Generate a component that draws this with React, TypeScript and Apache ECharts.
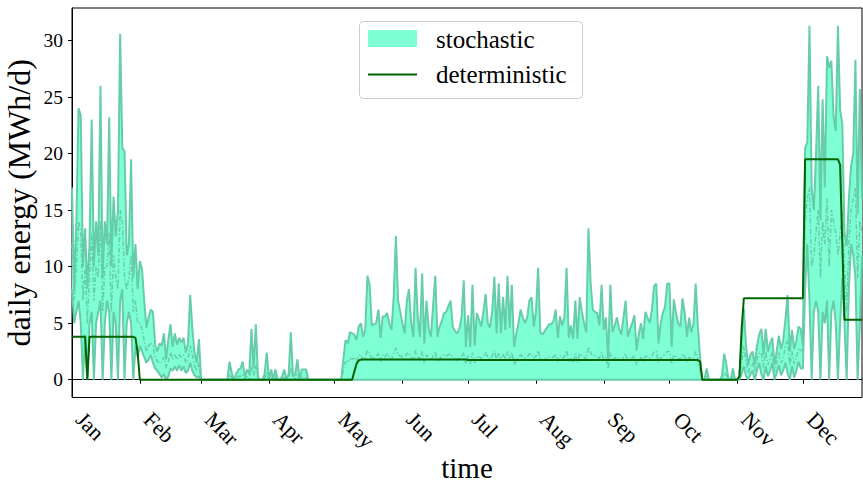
import React, { useEffect, useRef } from "react";
import * as echarts from "echarts";

const FONT = "'Liberation Serif', 'Times New Roman', serif";

const monthLabels = ["Jan", "Feb", "Mar", "Apr", "May", "Jun", "Jul", "Aug", "Sep", "Oct", "Nov", "Dec"];
const monthStartDays = [0, 31, 59, 90, 120, 151, 181, 212, 243, 273, 304, 334];
const yTickValues = [0, 5, 10, 15, 20, 25, 30];

// ---- stochastic: upper envelope (MWh/d), one value per day ----
const upperJan = [17, 8, 14, 24, 23.4, 10, 13.4, 8, 12, 23, 10, 14, 11, 26, 9, 14, 12, 23.2, 10, 16.2, 12.7, 15, 30.6, 20.5, 20.2, 11, 12, 19.5, 9, 12, 8];
const upperFeb = [10.5, 9.8, 7, 4.6, 5.5, 6.2, 6.0, 3.1, 2.5, 3.2, 3.0, 4.1, 1.8, 3.5, 4.9, 2.9, 4.1, 3.1, 3.7, 3.3, 3.7, 2.4, 3.2, 7.5, 4.5, 2.4, 1.5, 3.6];
const upperMar = [0, 0, 0, 0, 0, 0, 0, 0, 0, 0, 0, 0, 0, 1.6, 0.6, 0, 0.5, 0.9, 1.0, 1.6, 0.3, 0.9, 0.5, 4.5, 1.0, 4.9, 0.2, 0, 0, 0.5, 2.4];
const upperApr = [0, 0.9, 0, 0.9, 0, 0, 0.3, 0.9, 0, 0.5, 4.2, 0.3, 0.5, 1.8, 0, 0.9, 0.9, 0.9, 0, 0, 0, 0, 0, 0, 0, 0, 0, 0, 0, 0];
const upperMay = [0, 0, 0, 0, 1.8, 3.5, 3.2, 4.2, 4.1, 4.0, 3.5, 4.7, 5.0, 3.8, 4.4, 9.2, 8.4, 4.8, 4.9, 5.0, 6.2, 3.7, 5.6, 5.6, 5.9, 5.0, 4.4, 7.3, 12.7, 7.0, 6.0];
const upperJun = [5.0, 4.1, 7.0, 8.0, 5.0, 3.8, 9.9, 5.5, 3.8, 9.4, 3.2, 7.0, 4.5, 3.8, 6.5, 9.2, 3.8, 4.7, 5.2, 5.9, 6.0, 6.5, 7.0, 4.7, 4.3, 4.1, 4.5, 5.5, 8.8, 2.9];
const upperJul = [5.7, 2.9, 8.4, 3.0, 5.9, 5.3, 4.7, 6.0, 7.6, 5.0, 4.6, 6.0, 9.1, 4.1, 8.5, 4.1, 7.3, 4.4, 9.2, 4.6, 8.4, 2.9, 4.0, 5.0, 6.2, 5.5, 5.0, 5.5, 7.0, 7.3, 4.7];
const upperAug = [6.0, 9.9, 4.2, 4.0, 4.3, 4.6, 4.9, 4.9, 5.2, 6.2, 3.7, 5.6, 4.8, 5.5, 9.9, 3.7, 4.8, 3.6, 7.0, 3.6, 7.3, 6.0, 5.0, 4.2, 13.4, 8.5, 6.2, 6.0, 5.9, 4.8, 8.4];
const upperSep = [4.4, 5.5, 1.7, 8.4, 4.2, 4.8, 5.5, 4.5, 4.0, 5.5, 7.0, 3.8, 4.5, 5.0, 5.7, 2.6, 4.0, 5.0, 3.6, 6.0, 5.5, 5.0, 6.2, 8.3, 8.5, 3.2, 5.0, 5.9, 6.5, 8.5];
const upperOct = [8.5, 2.9, 7.1, 5.9, 5.0, 4.7, 7.2, 5.9, 3.8, 5.5, 4.2, 4.9, 8.5, 4.7, 2.0, 0, 0, 1.0, 0, 0, 0, 0, 0, 0, 0.3, 2.3, 1.4, 0, 0, 1.0, 0];
const upperNov = [0, 0.3, 3.5, 6.3, 3.0, 1.3, 2.2, 2.5, 1.3, 3.0, 4.0, 4.5, 2.2, 4.5, 2.5, 3.2, 3.7, 1.3, 2.5, 3.9, 2.7, 3.5, 5.3, 7.5, 2.5, 4.4, 2.7, 3.5, 4.7, 4.5];
const upperDec = [3.0, 20.5, 21, 31.3, 17, 15, 20, 26, 14.1, 24.8, 17, 28.6, 27.6, 28.2, 23.3, 22, 31.3, 23.9, 22.6, 13, 11.8, 16, 18.9, 20, 28.3, 14.6, 25.7, 16];

// ---- stochastic: lower envelope ----
const lowerJan = [8, 5, 6, 7, 5, 0, 4, 0, 5, 6, 0, 5, 6, 7, 0, 5, 7, 6, 0, 6, 5, 0, 7, 8, 0, 5, 6, 5, 0, 3, 2];
const lowerFeb = [3, 2.5, 2, 1.5, 1.8, 2.2, 1.5, 1.0, 0.8, 0.5, 0.2, 0.5, 0, 0.3, 1.0, 0.8, 1.2, 0.8, 1.3, 0.8, 1.2, 0.6, 0.8, 1.5, 0.8, 0.4, 0.2, 0.3];
const lowerMar = [0, 0, 0, 0, 0, 0, 0, 0, 0, 0, 0, 0, 0, 0, 0, 0, 0, 0, 0, 0, 0, 0, 0, 0, 0, 0, 0, 0, 0, 0, 0];
const lowerApr = [0, 0, 0, 0, 0, 0, 0, 0, 0, 0, 0, 0, 0, 0, 0, 0, 0, 0, 0, 0, 0, 0, 0, 0, 0, 0, 0, 0, 0, 0];
const lowerMay = [0, 0, 0, 0, 0, 0, 0, 0, 0, 0, 0, 0, 0, 0, 0, 0, 0, 0, 0, 0, 0, 0, 0, 0, 0, 0, 0, 0, 0, 0, 0];
const lowerJun = [0, 0, 0, 0, 0, 0, 0, 0, 0, 0, 0, 0, 0, 0, 0, 0, 0, 0, 0, 0, 0, 0, 0, 0, 0, 0, 0, 0, 0, 0];
const lowerJul = [0, 0, 0, 0, 0, 0, 0, 0, 0, 0, 0, 0, 0, 0, 0, 0, 0, 0, 0, 0, 0, 0, 0, 0, 0, 0, 0, 0, 0, 0, 0];
const lowerAug = [0, 0, 0, 0, 0, 0, 0, 0, 0, 0, 0, 0, 0, 0, 0, 0, 0, 0, 0, 0, 0, 0, 0, 0, 0, 0, 0, 0, 0, 0, 0];
const lowerSep = [0, 0, 0, 0, 0, 0, 0, 0, 0, 0, 0, 0, 0, 0, 0, 0, 0, 0, 0, 0, 0, 0, 0, 0, 0, 0, 0, 0, 0, 0];
const lowerOct = [0, 0, 0, 0, 0, 0, 0, 0, 0, 0, 0, 0, 0, 0, 0, 0, 0, 0, 0, 0, 0, 0, 0, 0, 0, 0, 0, 0, 0, 0, 0];
const lowerNov = [0, 0, 0.5, 1.2, 0.3, 0, 0.5, 0.8, 0, 0.8, 1.5, 0.5, 0, 1.2, 0.3, 0.8, 1.5, 0, 0.6, 1.3, 0.4, 0.8, 1.5, 0.6, 0, 1.2, 0.2, 0.8, 1.6, 1.0];
const lowerDec = [1.0, 8, 12, 7, 0, 6, 7, 6, 0, 6, 5, 7, 0, 6, 7, 5, 0, 5, 9, 5, 0, 8, 12, 11, 9, 0, 5, 11];

// ---- stochastic: mean (dash-dot) ----
const meanJan = [12, 7, 10, 14, 13, 7, 10, 5, 9, 13, 7, 10, 9, 14, 6, 10, 10, 13, 6, 11, 9, 8, 15, 14, 9, 8, 9, 11, 6, 7, 5];
const meanFeb = [5, 4.5, 3.5, 2.5, 3, 3.2, 3, 2, 1.6, 1.6, 1.5, 2, 1, 1.6, 2.4, 1.8, 2.2, 1.8, 2.2, 2, 2.2, 1.5, 1.8, 3, 2.2, 1.2, 0.8, 1.5];
const meanMar = [0, 0, 0, 0, 0, 0, 0, 0, 0, 0, 0, 0, 0, 0.4, 0.2, 0, 0.1, 0.3, 0.3, 0.5, 0.1, 0.3, 0.1, 1.2, 0.3, 1.3, 0, 0, 0, 0.1, 0.6];
const meanApr = [0, 0.2, 0, 0.2, 0, 0, 0, 0.2, 0, 0.1, 1.1, 0, 0.1, 0.5, 0, 0.2, 0.2, 0.2, 0, 0, 0, 0, 0, 0, 0, 0, 0, 0, 0, 0];
const meanMay = [0, 0, 0, 0, 0.8, 1.6, 1.5, 1.9, 1.8, 2.0, 1.6, 2.1, 2.2, 1.7, 2.0, 2.6, 2.4, 1.8, 2.0, 2.1, 2.3, 1.6, 2.2, 2.0, 2.3, 2.0, 1.8, 2.4, 2.8, 2.2, 2.1];
const meanJun = [2.0, 1.8, 2.3, 2.4, 2.0, 1.7, 2.6, 2.1, 1.7, 2.5, 1.5, 2.2, 1.9, 1.7, 2.1, 2.5, 1.6, 1.9, 2.0, 2.2, 2.1, 2.2, 2.3, 1.9, 1.8, 1.7, 1.9, 2.0, 2.4, 1.4];
const meanJul = [2.1, 1.4, 2.4, 1.5, 2.1, 2.0, 1.9, 2.1, 2.4, 2.0, 1.8, 2.1, 2.6, 1.7, 2.4, 1.7, 2.3, 1.8, 2.5, 1.8, 2.4, 1.3, 1.7, 2.0, 2.2, 2.0, 1.9, 2.0, 2.3, 2.3, 1.9];
const meanAug = [2.1, 2.6, 1.8, 1.7, 1.8, 1.9, 2.0, 2.0, 2.0, 2.2, 1.6, 2.1, 1.9, 2.0, 2.6, 1.6, 1.9, 1.5, 2.3, 1.5, 2.3, 2.1, 2.0, 1.8, 2.9, 2.4, 2.1, 2.1, 2.0, 1.9, 2.4];
const meanSep = [1.8, 2.0, 1.0, 2.4, 1.8, 1.9, 2.0, 1.8, 1.7, 2.0, 2.3, 1.6, 1.8, 1.9, 2.1, 1.3, 1.7, 2.0, 1.6, 2.1, 2.0, 1.9, 2.1, 2.5, 2.5, 1.5, 1.9, 2.1, 2.2, 2.5];
const meanOct = [2.5, 1.4, 2.2, 2.0, 1.9, 1.8, 2.3, 2.0, 1.6, 2.0, 1.8, 1.9, 2.5, 1.8, 0.8, 0, 0, 0.3, 0, 0, 0, 0, 0, 0, 0.1, 0.6, 0.4, 0, 0, 0.3, 0];
const meanNov = [0, 0.1, 1.5, 3, 1.6, 0.6, 1.2, 1.5, 0.7, 1.8, 2.3, 2.4, 1.1, 2.5, 1.3, 1.8, 2.4, 0.7, 1.4, 2.4, 1.5, 1.9, 3, 3.5, 1.3, 2.5, 1.4, 2, 2.8, 2.6];
const meanDec = [2.5, 14, 16, 17, 10, 11, 13, 15, 9, 14, 12, 16, 10, 15, 14, 13, 11, 13, 15, 10, 6, 12, 15, 16, 17, 9, 14, 13];

// ---- deterministic: [day index, value] at each change ----
const deterministicPoints: [number, number][] = [
  [0, 3.8], [6, 3.8], [7, 0], [8, 3.8], [28, 3.8], [29, 3.7], [30, 2.4], [31, 0],
  [128, 0], [129, 0.7], [130, 1.4], [131, 1.7], [132, 1.78], [180, 1.78], [181, 1.74],
  [286, 1.74], [287, 1.6], [288, 0], [304, 0], [305, 0.3], [306, 4.5], [307, 7.2],
  [334, 7.2], [335, 19.5], [350, 19.5], [351, 19.0], [352, 12.0], [353, 5.3], [361, 5.3],
];

const upper = [...upperJan, ...upperFeb, ...upperMar, ...upperApr, ...upperMay, ...upperJun, ...upperJul, ...upperAug, ...upperSep, ...upperOct, ...upperNov, ...upperDec];
const lower = [...lowerJan, ...lowerFeb, ...lowerMar, ...lowerApr, ...lowerMay, ...lowerJun, ...lowerJul, ...lowerAug, ...lowerSep, ...lowerOct, ...lowerNov, ...lowerDec];
const mean = [...meanJan, ...meanFeb, ...meanMar, ...meanApr, ...meanMay, ...meanJun, ...meanJul, ...meanAug, ...meanSep, ...meanOct, ...meanNov, ...meanDec];

const dayCategories = upper.map((_, i) => String(i));
const bandWidth = upper.map((u, i) => Math.max(0, +(u - lower[i]).toFixed(3)));

const isMonthStart = (index: number) => monthStartDays.indexOf(index) >= 0;

const EDGE = "#66cdaa";

export default function App() {
  const ref = useRef<HTMLDivElement>(null);
  useEffect(() => {
    document.body.style.margin = "0";
    const chart = echarts.init(ref.current as HTMLDivElement, null, { renderer: "svg" });
    chart.setOption({
      animation: false,
      backgroundColor: "#ffffff",
      grid: {
        left: 72, right: 1, top: 8, bottom: 88.5,
        show: true, borderColor: "#000", borderWidth: 1, backgroundColor: "transparent",
        containLabel: false, outerBoundsMode: "none",
      },
      xAxis: {
        type: "category",
        data: dayCategories,
        boundaryGap: false,
        axisLine: { show: true, lineStyle: { color: "#000", width: 1 } },
        axisTick: { show: true, length: 4, interval: isMonthStart, lineStyle: { color: "#000", width: 1 } },
        axisLabel: {
          show: true,
          interval: isMonthStart,
          formatter: (v: string) => monthLabels[monthStartDays.indexOf(Number(v))] ?? "",
          rotate: -45,
          align: "left",
          verticalAlign: "bottom",
          margin: 26,
          fontFamily: FONT,
          fontSize: 22,
          color: "#000",
          hideOverlap: false,
        },
        splitLine: { show: false },
        name: "time",
        nameLocation: "middle",
        nameGap: 56,
        nameMoveOverlap: false,
        nameTextStyle: { fontFamily: FONT, fontSize: 29, color: "#000" },
      },
      yAxis: {
        type: "value",
        min: -1.57,
        max: 32.87,
        axisLine: { show: true, lineStyle: { color: "#000", width: 1 } },
        axisTick: { show: true, length: 4, customValues: yTickValues, lineStyle: { color: "#000", width: 1 } },
        axisLabel: { show: true, customValues: yTickValues, margin: 9, fontFamily: FONT, fontSize: 19.5, color: "#000" },
        splitLine: { show: false },
        name: "daily energy (MWh/d)",
        nameLocation: "middle",
        nameGap: 37,
        nameMoveOverlap: false,
        nameTextStyle: { fontFamily: FONT, fontSize: 32, color: "#000" },
      },
      series: [
        {
          name: "lower",
          type: "line",
          stack: "band",
          data: lower,
          showSymbol: false,
          symbol: "none",
          z: 3,
          lineStyle: { color: EDGE, width: 2 },
          silent: true,
        },
        {
          name: "stochastic",
          type: "line",
          stack: "band",
          data: bandWidth,
          showSymbol: false,
          symbol: "none",
          z: 2,
          lineStyle: { color: EDGE, width: 2 },
          areaStyle: { color: "#7fffd4", opacity: 1 },
          silent: true,
        },
        {
          name: "mean",
          type: "line",
          data: mean,
          showSymbol: false,
          symbol: "none",
          z: 3,
          lineStyle: { color: EDGE, width: 1.5, type: [5, 2, 1.5, 2] },
          silent: true,
        },
        {
          name: "deterministic",
          type: "line",
          data: deterministicPoints,
          showSymbol: false,
          symbol: "none",
          z: 4,
          lineStyle: { color: "#006400", width: 2 },
          silent: true,
        },
      ],
      graphic: [
        {
          type: "rect",
          z: 100,
          shape: { x: 359.5, y: 21.5, width: 223, height: 77, r: 4 },
          style: { fill: "rgba(255,255,255,0.8)", stroke: "#cccccc", lineWidth: 1 },
        },
        {
          type: "rect",
          z: 101,
          shape: { x: 368, y: 30, width: 49, height: 17 },
          style: { fill: "#7fffd4" },
        },
        {
          type: "line",
          z: 101,
          shape: { x1: 368, y1: 74.5, x2: 417, y2: 74.5 },
          style: { stroke: "#006400", lineWidth: 2 },
        },
        {
          type: "text",
          z: 101,
          x: 436,
          y: 39,
          style: { text: "stochastic", fontFamily: FONT, fontSize: 25, fill: "#000", verticalAlign: "middle", align: "left" },
        },
        {
          type: "text",
          z: 101,
          x: 436,
          y: 74,
          style: { text: "deterministic", fontFamily: FONT, fontSize: 25, fill: "#000", verticalAlign: "middle", align: "left" },
        },
      ],
    });
    return () => chart.dispose();
  }, []);
  return <div ref={ref} style={{ width: 863, height: 486 }} />;
}
